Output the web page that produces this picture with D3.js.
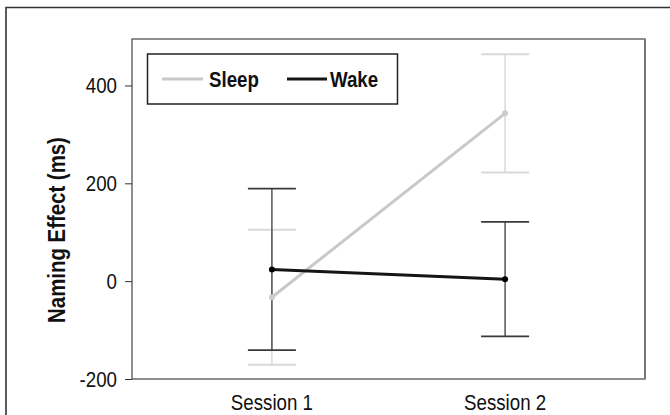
<!DOCTYPE html>
<html>
<head>
<meta charset="utf-8">
<script src="https://cdn.jsdelivr.net/npm/d3@7"></script>
<style>
  body { margin: 0; background: #fff; }
  svg { display: block; font-family: "Liberation Sans", Arial, sans-serif; }
</style>
</head>
<body>
<svg width="670" height="415"></svg>
<script>
// values
const sessions = ["Session 1", "Session 2"];
const sleepMean = [-33, 343];
const sleepErr = [138, 121];
const wakeMean = [24, 4];
const wakeErr = [165, 117];
const yTicks = [-200, 0, 200, 400];

const series = [
  { name: "Sleep", mean: sleepMean, err: sleepErr, line: "#c9c9c9", bar: "#d9d9d9", barW: 1.5, dot: "#cdcdcd" },
  { name: "Wake", mean: wakeMean, err: wakeErr, line: "#151515", bar: "#3a3a3a", barW: 1.3, dot: "#000" }
];

const svg = d3.select("svg");
const plot = { left: 132, right: 645, top: 39, bottom: 379 };
const narrow = "scale(0.85,1)"; // the original font is a condensed sans

// outer frame (runs off the right and bottom edge)
svg.append("path")
  .attr("d", "M6,420 L6,7.5 L675,7.5")
  .attr("fill", "none").attr("stroke", "#333").attr("stroke-width", 1.6);

const x = d3.scalePoint().domain(sessions).range([plot.left, plot.right]).padding(0.6);
const y = d3.scaleLinear().domain([-200, 495]).range([plot.bottom, plot.top]);

// plot box
svg.append("rect")
  .attr("x", plot.left).attr("y", plot.top)
  .attr("width", plot.right - plot.left).attr("height", plot.bottom - plot.top)
  .attr("fill", "none").attr("stroke", "#444").attr("stroke-width", 1.2);
svg.append("line")
  .attr("x1", plot.right).attr("x2", plot.right).attr("y1", plot.top).attr("y2", plot.bottom)
  .attr("stroke", "#777").attr("stroke-width", 2);

// y axis
const yAxis = d3.axisLeft(y).tickValues(yTicks).tickSize(7).tickPadding(7).tickFormat(d => String(d));
const gy = svg.append("g").attr("transform", `translate(${plot.left},0)`).call(yAxis);
gy.select(".domain").remove();
gy.selectAll("line").attr("stroke", "#333");
gy.selectAll("text")
  .attr("x", null)
  .attr("transform", "translate(-15,0) " + narrow)
  .attr("font-size", 22).attr("fill", "#111").attr("font-family", "Liberation Sans, Arial, sans-serif");

// x labels
svg.selectAll(".xlab")
  .data(sessions)
  .enter().append("text")
  .attr("class", "xlab")
  .attr("transform", d => `translate(${x(d)},410) ${narrow}`)
  .attr("text-anchor", "middle")
  .attr("font-size", 22).attr("fill", "#111")
  .text(d => d);

// y title
svg.append("text")
  .attr("transform", "translate(65,230) rotate(-90) " + narrow)
  .attr("text-anchor", "middle")
  .attr("font-size", 24).attr("font-weight", "bold").attr("fill", "#111")
  .text("Naming Effect (ms)");

// error bars
const cap = 24;
series.forEach(s => {
  const g = svg.append("g");
  sessions.forEach((sess, i) => {
    const cx = x(sess), hi = y(s.mean[i] + s.err[i]), lo = y(s.mean[i] - s.err[i]);
    g.append("line").attr("x1", cx).attr("x2", cx).attr("y1", hi).attr("y2", lo)
      .attr("stroke", s.bar).attr("stroke-width", s.barW);
    [hi, lo].forEach(yy => {
      g.append("line").attr("x1", cx - cap).attr("x2", cx + cap).attr("y1", yy).attr("y2", yy)
        .attr("stroke", s.bar).attr("stroke-width", s.barW + 0.5);
    });
  });
});

// lines and points
const line = d3.line().x((d, i) => x(sessions[i])).y(d => y(d));
series.forEach(s => {
  svg.append("path")
    .attr("d", line(s.mean))
    .attr("fill", "none").attr("stroke", s.line).attr("stroke-width", 3);
  svg.selectAll(null)
    .data(s.mean)
    .enter().append("circle")
    .attr("cx", (d, i) => x(sessions[i]))
    .attr("cy", d => y(d))
    .attr("r", 3)
    .attr("fill", s.dot);
});

// legend
const lg = svg.append("g");
lg.append("rect").attr("x", 147.5).attr("y", 54).attr("width", 250).attr("height", 50)
  .attr("fill", "#fff").attr("stroke", "#222").attr("stroke-width", 1.5);
const legendPos = [{ x1: 162, x2: 203, tx: 209 }, { x1: 287, x2: 327, tx: 330 }];
series.forEach((s, i) => {
  const p = legendPos[i];
  lg.append("line").attr("x1", p.x1).attr("x2", p.x2).attr("y1", 79).attr("y2", 79)
    .attr("stroke", s.line).attr("stroke-width", 3);
  lg.append("text").attr("transform", `translate(${p.tx},87) ${narrow}`)
    .attr("font-size", 22).attr("font-weight", "bold").attr("fill", "#111")
    .text(s.name);
});
</script>
</body>
</html>
